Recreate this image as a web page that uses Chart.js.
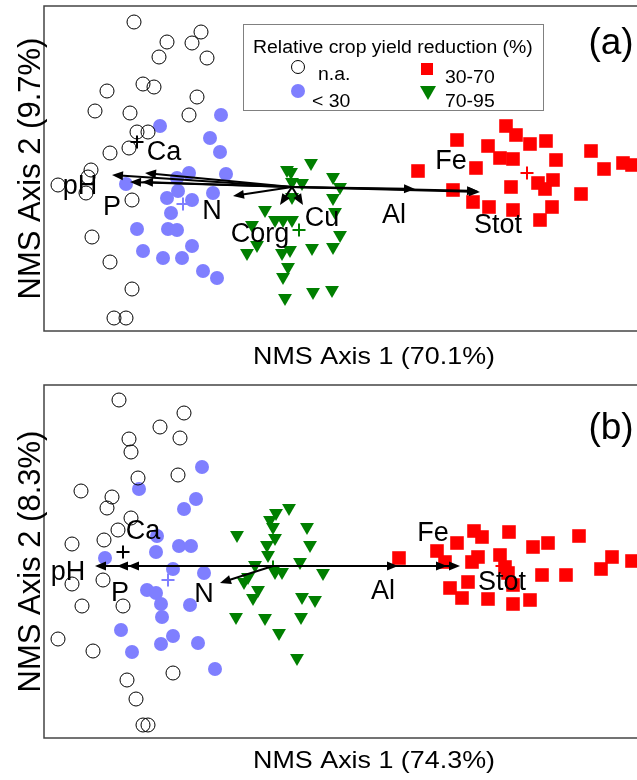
<!DOCTYPE html>
<html>
<head>
<meta charset="utf-8">
<script src="https://cdn.jsdelivr.net/npm/chart.js@4.4.0/dist/chart.umd.min.js"></script>
<style>
  html, body { margin: 0; padding: 0; background: #fff; overflow: hidden; width: 637px; height: 780px; }
  .panel { position: absolute; left: 0; }
  #wrapA { top: 0; }
  #wrapB { top: 370px; }
</style>
</head>
<body>
<div class="panel" id="wrapA"><canvas id="chartA" width="720" height="370"></canvas></div>
<div class="panel" id="wrapB"><canvas id="chartB" width="720" height="410"></canvas></div>
<script>
// groups (relative crop yield reduction)
const legendTitle = 'Relative crop yield reduction (%)';
const groupLabels = ['n.a.', '< 30', '30-70', '70-95'];

// ---- panel (a): NMS scores [axis1, axis2]
const naA = [[-2.18,1.46],[-1.85,1.26],[-1.93,1.11],[-1.60,1.25],[-1.51,1.36],[-1.45,1.10],[-2.09,0.84],[-1.98,0.81],[-2.45,0.77],[-1.55,0.71],[-2.57,0.57],[-2.22,0.55],[-1.63,0.53],[-2.15,0.36],[-2.04,0.36],[-2.23,0.20],[-2.42,0.15],[-2.61,-0.02],[-2.64,-0.09],[-2.94,-0.17],[-2.66,-0.25],[-2.20,-0.32],[-2.60,-0.69],[-2.42,-0.94],[-2.20,-1.21],[-2.38,-1.50],[-2.26,-1.50]];
const lowA = [[-1.31,0.53],[-1.92,0.42],[-1.42,0.30],[-1.32,0.16],[-1.26,-0.06],[-1.63,-0.05],[-1.75,-0.10],[-2.26,-0.16],[-1.74,-0.23],[-1.85,-0.30],[-1.60,-0.32],[-1.39,-0.25],[-1.81,-0.45],[-1.84,-0.61],[-1.75,-0.62],[-2.15,-0.61],[-2.09,-0.83],[-1.89,-0.90],[-1.70,-0.90],[-1.60,-0.78],[-1.49,-1.03],[-1.35,-1.10]];
const midA = [[0.66,-0.03],[1.05,0.28],[1.24,0.00],[1.01,-0.22],[1.21,-0.34],[1.37,-0.39],[1.61,-0.42],[1.54,0.42],[1.64,0.33],[1.36,0.22],[1.78,0.24],[1.94,0.27],[1.48,0.10],[1.61,0.09],[2.04,0.08],[1.59,-0.19],[1.86,-0.15],[2.01,-0.12],[1.93,-0.21],[2.00,-0.39],[1.88,-0.52],[2.29,-0.26],[2.39,0.17],[2.52,-0.01],[2.71,0.05],[2.80,0.03]];
const highA = [[-0.41,0.05],[-0.65,-0.02],[-0.61,-0.04],[-0.60,-0.14],[-0.50,-0.15],[-0.19,-0.09],[-0.12,-0.19],[-0.19,-0.30],[-0.17,-0.44],[-0.87,-0.42],[-0.77,-0.52],[-0.69,-0.52],[-0.60,-0.52],[-1.00,-0.57],[-0.95,-0.77],[-1.05,-0.85],[-0.70,-0.85],[-0.40,-0.80],[-0.19,-0.79],[-0.12,-0.67],[-0.64,-0.99],[-0.69,-1.09],[-0.67,-1.30],[-0.39,-1.24],[-0.20,-1.22],[-0.60,-0.29],[-0.62,-0.82]];
const centroidsA = [[-2.15,0.26],[-1.69,-0.36],[1.75,-0.05],[-0.53,-0.62]];
const arrowNamesA = ['pH','Ca','P','','N','Corg','Cu','Al','Fe','Stot'];
const arrowOriginA = [-0.60,-0.19];
const arrowTipsA = [[-2.40,-0.07],[-2.07,-0.05],[-2.22,-0.14],[-2.10,-0.14],[-1.19,-0.28],[-0.72,-0.37],[-0.49,-0.37],[0.63,-0.21],[1.26,-0.23],[1.28,-0.24]];
const labelAtA = [[-2.72,-0.19],[-1.88,0.15],[-2.40,-0.40],null,[-1.40,-0.44],[-0.92,-0.67],[-0.30,-0.51],[0.42,-0.48],[0.99,0.06],[1.46,-0.58]];

// ---- panel (b)
const naB = [[-2.33,1.62],[-1.68,1.49],[-1.92,1.35],[-1.72,1.24],[-2.23,1.23],[-2.21,1.10],[-2.14,0.84],[-1.74,0.87],[-2.71,0.71],[-2.40,0.65],[-2.45,0.54],[-2.21,0.44],[-2.34,0.32],[-2.48,0.22],[-2.80,0.18],[-2.49,-0.18],[-2.80,-0.22],[-2.70,-0.44],[-2.29,-0.44],[-2.94,-0.77],[-2.59,-0.89],[-1.79,-1.11],[-2.25,-1.18],[-2.16,-1.37],[-2.09,-1.63],[-2.04,-1.63]];
const lowB = [[-1.50,0.95],[-2.13,0.73],[-1.56,0.63],[-1.68,0.53],[-1.95,0.26],[-1.73,0.16],[-1.61,0.16],[-1.96,0.10],[-2.47,0.04],[-1.79,-0.07],[-1.48,-0.11],[-2.05,-0.28],[-1.96,-0.31],[-1.91,-0.42],[-1.62,-0.43],[-1.90,-0.55],[-2.31,-0.68],[-1.79,-0.74],[-1.91,-0.82],[-1.54,-0.81],[-2.20,-0.90],[-1.37,-1.07]];
const midB = [[0.47,0.04],[0.85,0.11],[1.05,0.19],[1.22,0.31],[1.30,0.25],[1.57,0.30],[1.81,0.15],[1.96,0.19],[2.27,0.26],[0.93,0.00],[1.20,0.00],[1.26,0.05],[1.48,0.07],[1.53,-0.05],[1.56,-0.11],[1.16,-0.20],[0.98,-0.26],[1.10,-0.36],[1.36,-0.37],[1.61,-0.42],[1.78,-0.38],[1.90,-0.13],[2.14,-0.13],[2.49,-0.07],[2.60,0.05],[2.80,0.01],[1.61,-0.23]];
const highB = [[-0.63,0.54],[-0.76,0.49],[-0.82,0.42],[-0.79,0.35],[-0.45,0.35],[-1.15,0.27],[-0.77,0.24],[-0.85,0.17],[-0.42,0.17],[-0.84,0.07],[-0.97,-0.03],[-0.52,0.00],[-0.29,-0.11],[-0.70,-0.10],[-0.77,-0.10],[-1.04,-0.15],[-1.08,-0.20],[-0.94,-0.28],[-0.99,-0.36],[-0.50,-0.35],[-0.37,-0.38],[-1.16,-0.55],[-0.87,-0.56],[-0.51,-0.55],[-0.73,-0.71],[-0.55,-0.96]];
const centroidsB = [[-2.29,0.10],[-1.84,-0.18],[1.50,-0.04],[-0.79,-0.05]];
const arrowNamesB = ['pH','Ca','P','N','Al','Fe','Stot'];
const arrowOriginB = [-0.79,-0.04];
const arrowTipsB = [[-2.57,-0.04],[-2.35,-0.04],[-2.24,-0.04],[-1.32,-0.21],[0.46,-0.04],[0.95,-0.04],[1.08,-0.04]];
const labelAtB = [[-2.84,-0.11],[-2.09,0.30],[-2.32,-0.32],[-1.48,-0.33],[0.31,-0.30],[0.81,0.28],[1.50,-0.21]];

const FONT = '"Liberation Sans", Arial, sans-serif';
const colors = ['#000000', '#7f7fff', '#ff0000', '#007f00'];

const toXY = arr => arr.map(p => ({ x: p[0], y: p[1] }));

function groupDatasets(na, low, mid, high, cents) {
  return [
    { data: toXY(na), pointStyle: 'circle', pointRadius: 7, backgroundColor: 'transparent', borderColor: '#000', borderWidth: 1 },
    { data: toXY(low), pointStyle: 'circle', pointRadius: 7, backgroundColor: colors[1], borderColor: colors[1], borderWidth: 0 },
    { data: toXY(high), pointStyle: 'triangle', rotation: 180, pointRadius: 8, backgroundColor: colors[3], borderColor: colors[3], borderWidth: 0 },
    { data: toXY(mid), pointStyle: 'rect', pointRadius: 9.6, backgroundColor: colors[2], borderColor: colors[2], borderWidth: 0 },
    { data: toXY(cents), pointStyle: 'cross', pointRadius: 6.5, borderWidth: 2,
      borderColor: colors, backgroundColor: colors }
  ];
}

function drawArrow(ctx, x0, y0, x1, y1) {
  const a = Math.atan2(y1 - y0, x1 - x0), L = 11, W = 4.5;
  ctx.beginPath();
  ctx.moveTo(x0, y0);
  ctx.lineTo(x1 - 8 * Math.cos(a), y1 - 8 * Math.sin(a));
  ctx.stroke();
  ctx.beginPath();
  ctx.moveTo(x1, y1);
  ctx.lineTo(x1 - L * Math.cos(a) + W * Math.sin(a), y1 - L * Math.sin(a) - W * Math.cos(a));
  ctx.lineTo(x1 - L * Math.cos(a) - W * Math.sin(a), y1 - L * Math.sin(a) + W * Math.cos(a));
  ctx.closePath();
  ctx.fill();
}

function wideText(ctx, s, x, y, sx) {
  ctx.save();
  ctx.translate(x, y);
  ctx.scale(sx, 1);
  ctx.fillText(s, 0, 0);
  ctx.restore();
}

function drawLegend(ctx) {
  ctx.fillStyle = '#fff';
  ctx.fillRect(243, 24, 300, 86);
  ctx.strokeStyle = '#808080';
  ctx.lineWidth = 1;
  ctx.strokeRect(243.5, 24.5, 300, 86);
  ctx.fillStyle = '#000';
  ctx.font = '18px ' + FONT;
  ctx.textAlign = 'left';
  ctx.textBaseline = 'alphabetic';
  wideText(ctx, legendTitle, 253, 53, 1.08);
  // symbols
  ctx.beginPath(); ctx.arc(298, 67, 6.5, 0, Math.PI * 2);
  ctx.strokeStyle = '#000'; ctx.stroke();
  ctx.beginPath(); ctx.arc(298, 91, 7, 0, Math.PI * 2);
  ctx.fillStyle = colors[1]; ctx.fill();
  ctx.fillStyle = colors[2]; ctx.fillRect(421, 63, 12, 12);
  ctx.beginPath(); ctx.moveTo(420, 86); ctx.lineTo(436, 86); ctx.lineTo(428, 100); ctx.closePath();
  ctx.fillStyle = colors[3]; ctx.fill();
  ctx.fillStyle = '#000';
  wideText(ctx, groupLabels[0], 318, 80, 1.08);
  wideText(ctx, groupLabels[1], 312, 107, 1.08);
  wideText(ctx, groupLabels[2], 445, 83, 1.08);
  wideText(ctx, groupLabels[3], 445, 107, 1.08);
}

function biplotPlugin(cfg) {
  return {
    id: 'biplot',
    afterDatasetsDraw(chart) {
      const { ctx, chartArea: a, scales: { x, y } } = chart;
      ctx.save();
      // environmental vectors
      ctx.strokeStyle = '#000';
      ctx.fillStyle = '#000';
      ctx.lineWidth = 2;
      const ox = x.getPixelForValue(cfg.origin[0]), oy = y.getPixelForValue(cfg.origin[1]);
      cfg.tips.forEach(t => drawArrow(ctx, ox, oy, x.getPixelForValue(t[0]), y.getPixelForValue(t[1])));
      ctx.font = '27px ' + FONT;
      ctx.textAlign = 'center';
      ctx.textBaseline = 'middle';
      cfg.names.forEach((n, i) => {
        const p = cfg.labelAt[i];
        if (n && p) ctx.fillText(n, x.getPixelForValue(p[0]), y.getPixelForValue(p[1]));
      });
      // frame
      ctx.strokeStyle = '#444';
      ctx.lineWidth = 1.5;
      ctx.strokeRect(a.left, a.top, a.width, a.height);
      // panel letter
      ctx.font = '37px ' + FONT;
      ctx.fillText(cfg.letter, 611, cfg.letterY);
      // axis titles
      ctx.font = '24px ' + FONT;
      ctx.textAlign = 'left';
      ctx.textBaseline = 'alphabetic';
      wideText(ctx, cfg.xTitle, 253, cfg.xTitleY, 1.12);
      ctx.save();
      ctx.translate(31, (a.top + a.bottom) / 2);
      ctx.rotate(-Math.PI / 2);
      ctx.font = '31px ' + FONT;
      ctx.textAlign = 'center';
      ctx.textBaseline = 'middle';
      ctx.fillText(cfg.yTitle, 0, 0);
      ctx.restore();
      if (cfg.legend) drawLegend(ctx);
      ctx.restore();
    }
  };
}

function makeChart(id, datasets, yRange, padding, cfg) {
  return new Chart(document.getElementById(id), {
    type: 'scatter',
    data: { datasets },
    options: {
      responsive: false,
      animation: false,
      events: [],
      layout: { padding, autoPadding: false },
      plugins: { legend: { display: false }, tooltip: { enabled: false } },
      scales: {
        x: { display: false, min: -3.08, max: 3.48 },
        y: { display: false, min: yRange[0], max: yRange[1] }
      }
    },
    plugins: [biplotPlugin(cfg)]
  });
}

makeChart('chartA', groupDatasets(naA, lowA, midA, highA, centroidsA), [-1.63, 1.62],
  { left: 44, top: 6, right: 20, bottom: 39 },
  { origin: arrowOriginA, tips: arrowTipsA, names: arrowNamesA, labelAt: labelAtA,
    letter: '(a)', letterY: 44, xTitle: 'NMS Axis 1 (70.1%)', xTitleY: 364,
    yTitle: 'NMS Axis 2 (9.7%)', legend: true });

makeChart('chartB', groupDatasets(naB, lowB, midB, highB, centroidsB), [-1.76, 1.77],
  { left: 44, top: 15, right: 20, bottom: 42 },
  { origin: arrowOriginB, tips: arrowTipsB, names: arrowNamesB, labelAt: labelAtB,
    letter: '(b)', letterY: 59, xTitle: 'NMS Axis 1 (74.3%)', xTitleY: 398,
    yTitle: 'NMS Axis 2 (8.3%)', legend: false });
</script>
</body>
</html>
